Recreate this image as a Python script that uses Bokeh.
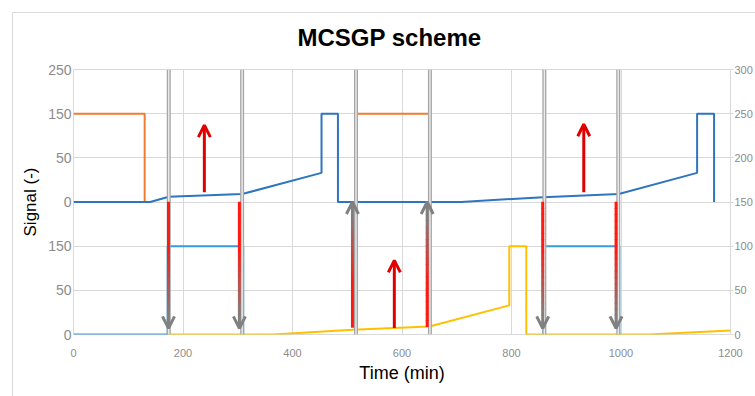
import numpy as np
from bokeh.plotting import figure
from bokeh.models import Range1d, LinearAxis, FixedTicker, Arrow, OpenHead, ColumnDataSource
from bokeh.embed import file_html
from bokeh.resources import INLINE

# ---------------- data ----------------
title_text = "MCSGP scheme"
x_label = "Time (min)"
y_label = "Signal (-)"

x_ticks = [0, 200, 400, 600, 800, 1000, 1200]
y_ticks = [0, 50, 100, 150, 200, 250, 300]
left_tick_labels = ["0", "50", "150", "0", "50", "150", "250"]
right_tick_labels = ["0", "50", "100", "150", "200", "250", "300"]

orange_a_x = [0, 130, 130]
orange_a_y = [250, 250, 150]
orange_b_x = [517, 652]
orange_b_y = [250, 250]

blue_top_x = [0, 140, 174, 308, 453, 453, 483, 483, 708, 858, 996, 1139, 1139, 1170, 1170]
blue_top_y = [150, 150, 156, 159, 183, 250, 250, 150, 150, 155.5, 159, 183, 250, 250, 150]

blue_low_a_x = [0, 172, 172, 310, 310]
blue_low_a_y = [0, 0, 100, 100, 0]
blue_low_b_x = [858, 858, 997, 997]
blue_low_b_y = [0, 100, 100, 0]

yellow_x = [172, 365, 510, 650, 796, 796, 827, 827, 1051, 1200]
yellow_y = [0, 0, 5.5, 9, 33, 100, 100, 0, 0, 4.5]

switch_x = [174, 308, 516, 651, 860, 995]

# gradient arrows (red end -> gray tip)
grad_x = [173.5, 303, 509.5, 646, 857, 991]
grad_y_start = [150, 150, 8, 9, 150, 150]
grad_y_end = [7, 7, 150, 150, 7, 7]

# plain red arrows
red_x = [239, 586, 932]
red_y_start = [161, 7.5, 161]
red_y_end = [237, 84, 238]

# ---------------- styles ----------------
C_ORANGE = "#ED7D31"
C_BLUE_TOP = "#2E75C0"
C_BLUE_LOW = "#3A9BD9"
C_YELLOW = "#FFC000"
C_GRID = "#d9d9d9"
C_TICK = "#8c8c8c"
FONT = "Liberation Sans"

FW, FH = 659, 265          # frame size in px
ML, MT, MB, MR = 73, 69, 62, 23

p = figure(width=ML + FW + MR, height=MT + FH + MB, output_backend="svg", toolbar_location=None,
           x_range=Range1d(0, 1200), y_range=Range1d(0, 300),
           min_border_left=ML, min_border_right=MR, min_border_top=MT, min_border_bottom=MB)
p.border_fill_alpha = 0
p.background_fill_color = "white"
p.outline_line_color = C_GRID
p.styles = {
    "background-color": "white",
    "background-image": "linear-gradient(#d9d9d9,#d9d9d9), linear-gradient(#d9d9d9,#d9d9d9)",
    "background-size": "1px 100%, 100% 1px",
    "background-position": "12px 12px, 12px 12px",
    "background-repeat": "no-repeat",
}

# title
p.title.text = title_text
p.title.text_font = FONT
p.title.text_font_size = "24px"
p.title.text_font_style = "bold"
p.title.align = "left"
p.title.offset = 224
p.title.text_color = "black"
p.title.standoff = 38

p.xgrid.ticker = FixedTicker(ticks=x_ticks)
p.ygrid.ticker = FixedTicker(ticks=y_ticks)
p.grid.grid_line_color = C_GRID
p.grid.grid_line_width = 1

# axes
p.xaxis.ticker = FixedTicker(ticks=x_ticks)
p.yaxis.ticker = FixedTicker(ticks=y_ticks)
p.yaxis.major_label_overrides = {t: l for t, l in zip(y_ticks, left_tick_labels)}
ax_r = LinearAxis(ticker=FixedTicker(ticks=y_ticks),
                  major_label_overrides={t: l for t, l in zip(y_ticks, right_tick_labels)})
p.add_layout(ax_r, "right")

for ax in [p.xaxis[0], p.yaxis[0], ax_r]:
    ax.axis_line_color = None
    ax.major_tick_line_color = None
    ax.major_tick_out = 0
    ax.major_tick_in = 0
    ax.minor_tick_line_color = None
    ax.minor_tick_out = 0
    ax.major_label_text_color = C_TICK
    ax.major_label_text_font = FONT
    ax.major_label_text_font_size = "11px"
    ax.axis_label_text_font = FONT
    ax.axis_label_text_font_style = "normal"
    ax.axis_label_text_color = "black"
p.yaxis[0].major_label_text_font_size = "14px"
p.yaxis[0].major_label_standoff = 2
p.yaxis[0].axis_label = y_label
p.yaxis[0].axis_label_text_font_size = "17px"
p.yaxis[0].axis_label_standoff = 5
p.xaxis[0].major_label_standoff = 14
p.xaxis[0].axis_label = x_label
p.xaxis[0].axis_label_text_font_size = "18px"
p.xaxis[0].axis_label_standoff = 3
ax_r.major_tick_out = 3
ax_r.major_tick_line_color = C_GRID
ax_r.major_label_standoff = 1

# series
lw = 2
p.line(orange_a_x, orange_a_y, line_color=C_ORANGE, line_width=lw)
p.line(orange_b_x, orange_b_y, line_color=C_ORANGE, line_width=lw)
p.line(blue_top_x, blue_top_y, line_color=C_BLUE_TOP, line_width=lw)
p.line(blue_low_a_x, blue_low_a_y, line_color=C_BLUE_LOW, line_width=lw)
p.line(blue_low_b_x, blue_low_b_y, line_color=C_BLUE_LOW, line_width=lw)
p.line(yellow_x, yellow_y, line_color=C_YELLOW, line_width=lw)

# switching lines (double gray)
p.segment(x0=switch_x, y0=[0] * len(switch_x), x1=switch_x, y1=[300] * len(switch_x),
          line_color="#a6a6a6", line_width=4)
p.segment(x0=switch_x, y0=[0] * len(switch_x), x1=switch_x, y1=[300] * len(switch_x),
          line_color="#ececec", line_width=1.4)

# gradient arrow shafts as small filled boxes
red_rgb = np.array([255, 26, 16])
gray_rgb = np.array([128, 128, 128])
nseg = 20
half_w = 1.5 * 1200 / FW        # 3 px wide shaft
ql, qr, qb, qt, cols = [], [], [], [], []
for x, ys, ye in zip(grad_x, grad_y_start, grad_y_end):
    ts = np.linspace(0, 1, nseg + 1)
    for i in range(nseg):
        tm = (ts[i] + ts[i + 1]) / 2
        f = np.clip((tm - 0.35) / 0.55, 0, 1)
        c = (red_rgb * (1 - f) + gray_rgb * f).astype(int)
        cols.append("#%02x%02x%02x" % tuple(c))
        a = ys + (ye - ys) * ts[i]
        b = ys + (ye - ys) * ts[i + 1]
        ql.append(x - half_w)
        qr.append(x + half_w)
        qb.append(min(a, b) - 0.4)
        qt.append(max(a, b) + 0.4)
p.quad(left="l", right="r", bottom="b", top="t", fill_color="c", line_color=None,
       source=ColumnDataSource(dict(l=ql, r=qr, b=qb, t=qt, c=cols)))
for x, ys, ye in zip(grad_x, grad_y_start, grad_y_end):
    p.add_layout(Arrow(end=OpenHead(size=12, line_color="#808080", line_width=3),
                       x_start=x, y_start=ys, x_end=x, y_end=ye, line_alpha=0))

# red arrows
for x, ys, ye in zip(red_x, red_y_start, red_y_end):
    p.add_layout(Arrow(end=OpenHead(size=12, line_color="#e00000", line_width=3),
                       x_start=x, y_start=ys, x_end=x, y_end=ye,
                       line_color="#e00000", line_width=3))

open("out.html", "w").write(file_html(p, INLINE))
